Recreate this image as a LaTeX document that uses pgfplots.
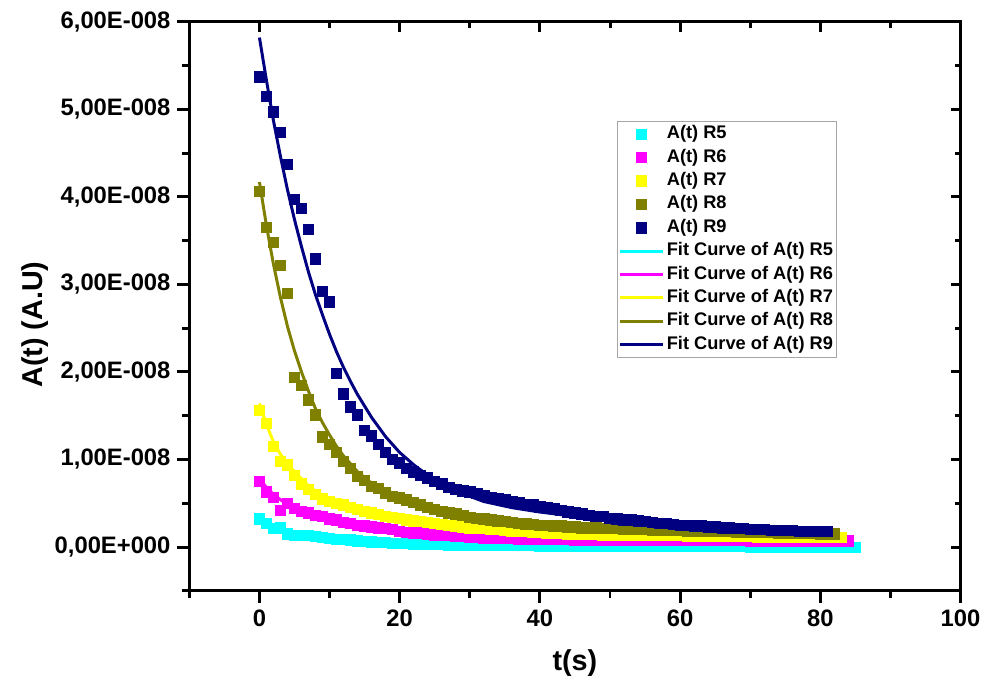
\documentclass[border=0pt]{standalone}
\usepackage{fontspec}
\setmainfont{Liberation Sans}
\usepackage{pgfplots}
\usepackage{pgfplotstable}
\pgfplotsset{compat=1.18}
\definecolor{navyc}{RGB}{0,0,128}
\definecolor{olivec}{RGB}{128,128,0}
\definecolor{cyanc}{RGB}{0,255,255}
\definecolor{magc}{RGB}{255,0,255}
\definecolor{yelc}{RGB}{255,255,0}

% data in units of 1E-008
\pgfplotstableread[row sep=\\]{
t y\\
0 0.32\\ 1 0.27\\ 2 0.21\\ 3 0.22\\ 4 0.15\\ 5 0.13\\ 6 0.13\\ 7 0.13\\ 8 0.12\\ 9 0.11\\
10 0.10\\ 11 0.09\\ 12 0.085\\ 13 0.08\\ 14 0.07\\ 15 0.065\\ 16 0.06\\ 17 0.055\\ 18 0.05\\ 19 0.045\\
20 0.04\\ 21 0.04\\ 22 0.035\\ 23 0.035\\ 24 0.03\\ 25 0.03\\ 26 0.03\\ 27 0.025\\ 28 0.025\\ 29 0.025\\
30 0.02\\ 31 0.02\\ 32 0.02\\ 33 0.02\\ 34 0.02\\ 35 0.015\\ 36 0.015\\ 37 0.015\\ 38 0.015\\ 39 0.015\\
40 0.01\\ 41 0.01\\ 42 0.01\\ 43 0.01\\ 44 0.01\\ 45 0.01\\ 46 0.01\\ 47 0.01\\ 48 0.01\\ 49 0.01\\
50 0.008\\ 51 0.008\\ 52 0.008\\ 53 0.008\\ 54 0.008\\ 55 0.008\\ 56 0.008\\ 57 0.008\\ 58 0.008\\ 59 0.008\\
60 0.005\\ 61 0.005\\ 62 0.005\\ 63 0.005\\ 64 0.005\\ 65 0.005\\ 66 0.005\\ 67 0.005\\ 68 0.005\\ 69 0.005\\
70 0.0\\ 71 0.0\\ 72 0.0\\ 73 0.0\\ 74 0.0\\ 75 0.0\\ 76 0.0\\ 77 0.0\\ 78 0.0\\ 79 0.0\\
80 -0.005\\ 81 -0.005\\ 82 -0.005\\ 83 -0.005\\ 84 -0.005\\ 85 -0.005\\
}\dataRfive

\pgfplotstableread[row sep=\\]{
t y\\
0 0.75\\ 1 0.63\\ 2 0.57\\ 3 0.42\\ 4 0.50\\ 5 0.44\\ 6 0.41\\ 7 0.39\\ 8 0.36\\ 9 0.35\\
10 0.32\\ 11 0.31\\ 12 0.28\\ 13 0.27\\ 14 0.25\\ 15 0.24\\ 16 0.23\\ 17 0.22\\ 18 0.21\\ 19 0.20\\
20 0.18\\ 21 0.17\\ 22 0.16\\ 23 0.16\\ 24 0.15\\ 25 0.14\\ 26 0.13\\ 27 0.13\\ 28 0.12\\ 29 0.12\\
30 0.11\\ 31 0.11\\ 32 0.105\\ 33 0.10\\ 34 0.10\\ 35 0.095\\ 36 0.095\\ 37 0.09\\ 38 0.09\\ 39 0.09\\
40 0.085\\ 41 0.085\\ 42 0.085\\ 43 0.085\\ 44 0.085\\ 45 0.08\\ 46 0.08\\ 47 0.08\\ 48 0.08\\ 49 0.08\\
50 0.08\\ 51 0.08\\ 52 0.08\\ 53 0.08\\ 54 0.08\\ 55 0.08\\ 56 0.08\\ 57 0.08\\ 58 0.08\\ 59 0.08\\
60 0.075\\ 61 0.075\\ 62 0.075\\ 63 0.075\\ 64 0.075\\ 65 0.075\\ 66 0.075\\ 67 0.075\\ 68 0.075\\ 69 0.075\\
70 0.07\\ 71 0.07\\ 72 0.07\\ 73 0.07\\ 74 0.07\\ 75 0.07\\ 76 0.07\\ 77 0.07\\ 78 0.07\\ 79 0.07\\
80 0.07\\ 81 0.07\\ 82 0.07\\ 83 0.07\\ 84 0.07\\
}\dataRsix

\pgfplotstableread[row sep=\\]{
t y\\
0 1.56\\ 1 1.41\\ 2 1.15\\ 3 0.98\\ 4 0.94\\ 5 0.82\\ 6 0.72\\ 7 0.66\\ 8 0.60\\ 9 0.55\\
10 0.52\\ 11 0.50\\ 12 0.48\\ 13 0.45\\ 14 0.43\\ 15 0.41\\ 16 0.39\\ 17 0.37\\ 18 0.35\\ 19 0.34\\
20 0.33\\ 21 0.31\\ 22 0.30\\ 23 0.29\\ 24 0.28\\ 25 0.27\\ 26 0.26\\ 27 0.25\\ 28 0.24\\ 29 0.23\\
30 0.22\\ 31 0.215\\ 32 0.21\\ 33 0.205\\ 34 0.20\\ 35 0.19\\ 36 0.185\\ 37 0.18\\ 38 0.175\\ 39 0.17\\
40 0.165\\ 41 0.16\\ 42 0.16\\ 43 0.155\\ 44 0.15\\ 45 0.15\\ 46 0.145\\ 47 0.145\\ 48 0.145\\ 49 0.14\\
50 0.14\\ 51 0.14\\ 52 0.14\\ 53 0.135\\ 54 0.135\\ 55 0.135\\ 56 0.135\\ 57 0.13\\ 58 0.13\\ 59 0.13\\
60 0.13\\ 61 0.125\\ 62 0.125\\ 63 0.125\\ 64 0.125\\ 65 0.125\\ 66 0.12\\ 67 0.12\\ 68 0.12\\ 69 0.12\\
70 0.12\\ 71 0.115\\ 72 0.115\\ 73 0.115\\ 74 0.115\\ 75 0.115\\ 76 0.115\\ 77 0.11\\ 78 0.11\\ 79 0.11\\
80 0.11\\ 81 0.11\\ 82 0.11\\ 83 0.11\\
}\dataRseven

\pgfplotstableread[row sep=\\]{
t y\\
0 4.06\\ 1 3.65\\ 2 3.48\\ 3 3.22\\ 4 2.90\\ 5 1.94\\ 6 1.85\\ 7 1.68\\ 8 1.51\\ 9 1.26\\
10 1.17\\ 11 1.08\\ 12 0.98\\ 13 0.90\\ 14 0.81\\ 15 0.76\\ 16 0.69\\ 17 0.67\\ 18 0.62\\ 19 0.58\\
20 0.56\\ 21 0.54\\ 22 0.51\\ 23 0.48\\ 24 0.45\\ 25 0.43\\ 26 0.41\\ 27 0.39\\ 28 0.38\\ 29 0.36\\
30 0.34\\ 31 0.33\\ 32 0.32\\ 33 0.31\\ 34 0.30\\ 35 0.29\\ 36 0.28\\ 37 0.27\\ 38 0.265\\ 39 0.26\\
40 0.25\\ 41 0.25\\ 42 0.24\\ 43 0.24\\ 44 0.23\\ 45 0.23\\ 46 0.22\\ 47 0.22\\ 48 0.22\\ 49 0.21\\
50 0.21\\ 51 0.21\\ 52 0.20\\ 53 0.20\\ 54 0.20\\ 55 0.20\\ 56 0.19\\ 57 0.19\\ 58 0.19\\ 59 0.19\\
60 0.19\\ 61 0.185\\ 62 0.185\\ 63 0.18\\ 64 0.18\\ 65 0.18\\ 66 0.175\\ 67 0.175\\ 68 0.17\\ 69 0.17\\
70 0.17\\ 71 0.165\\ 72 0.165\\ 73 0.165\\ 74 0.16\\ 75 0.16\\ 76 0.16\\ 77 0.155\\ 78 0.155\\ 79 0.155\\
80 0.15\\ 81 0.15\\ 82 0.15\\
}\dataReight

\pgfplotstableread[row sep=\\]{
t y\\
0 5.37\\ 1 5.15\\ 2 4.97\\ 3 4.74\\ 4 4.37\\ 5 3.97\\ 6 3.87\\ 7 3.63\\ 8 3.29\\ 9 2.92\\
10 2.80\\ 11 1.98\\ 12 1.75\\ 13 1.60\\ 14 1.51\\ 15 1.33\\ 16 1.27\\ 17 1.17\\ 18 1.08\\ 19 1.00\\
20 0.96\\ 21 0.90\\ 22 0.86\\ 23 0.82\\ 24 0.79\\ 25 0.75\\ 26 0.72\\ 27 0.68\\ 28 0.66\\ 29 0.64\\
30 0.63\\ 31 0.61\\ 32 0.59\\ 33 0.57\\ 34 0.55\\ 35 0.54\\ 36 0.52\\ 37 0.51\\ 38 0.49\\ 39 0.48\\
40 0.46\\ 41 0.45\\ 42 0.44\\ 43 0.42\\ 44 0.40\\ 45 0.39\\ 46 0.38\\ 47 0.36\\ 48 0.35\\ 49 0.35\\
50 0.33\\ 51 0.32\\ 52 0.31\\ 53 0.31\\ 54 0.30\\ 55 0.29\\ 56 0.28\\ 57 0.27\\ 58 0.27\\ 59 0.26\\
60 0.25\\ 61 0.25\\ 62 0.24\\ 63 0.24\\ 64 0.23\\ 65 0.23\\ 66 0.22\\ 67 0.22\\ 68 0.21\\ 69 0.21\\
70 0.20\\ 71 0.20\\ 72 0.20\\ 73 0.19\\ 74 0.19\\ 75 0.19\\ 76 0.19\\ 77 0.18\\ 78 0.18\\ 79 0.18\\
80 0.18\\ 81 0.18\\
}\dataRnine

\begin{document}
\begin{tikzpicture}
\begin{axis}[
  name=main,
  scale only axis, width=389bp, height=287bp,
  xmin=-10, xmax=100, ymin=-0.5, ymax=6,
  xtick={0,20,40,60,80,100}, minor xtick={-10,10,30,50,70,90},
  ytick={0,1,2,3,4,5,6}, minor ytick={-0.5,0.5,1.5,2.5,3.5,4.5,5.5},
  yticklabels={{0,00E+000},{1,00E-008},{2,00E-008},{3,00E-008},{4,00E-008},{5,00E-008},{6,00E-008}},
  xtick pos=left, ytick pos=left, tick align=outside,
  major tick length=6bp, minor tick length=3.5bp,
  axis line style={line width=1.5bp},
  tick style={line width=1.5bp, black},
  tick label style={font=\fontsize{12bp}{14bp}\selectfont\bfseries},
  /pgf/number format/assume math mode=true,
  xlabel={t(s)}, ylabel={A(t) (A.U)},
  label style={font=\fontsize{14.5bp}{16bp}\selectfont\bfseries},
  xlabel style={at={(axis description cs:0.5,0)}, anchor=center, yshift=-36.5bp},
  ylabel style={at={(axis description cs:0,0.468)}, anchor=center, rotate=0, yshift=78bp},
  legend cell align=left,
  legend image code/.code={\draw[mark repeat=2,mark phase=2,#1] plot coordinates {(0bp,0bp) (10.75bp,0bp) (21.5bp,0bp)};},
  legend style={at={(axis description cs:0.555,0.8255)}, anchor=north west,
    draw=gray!70, inner sep=0.5bp, row sep=0pt,
    font=\fontsize{9.2bp}{10bp}\selectfont\bfseries,
    nodes={inner xsep=1.25bp, inner ysep=1.6bp, text height=6.6bp, text depth=2bp}},
  mark size=2.6bp,
]
\addplot[only marks, mark=square*, color=cyanc] table[x=t,y=y] {\dataRfive};
\addplot[only marks, mark=square*, color=magc] table[x=t,y=y] {\dataRsix};
\addplot[only marks, mark=square*, color=yelc] table[x=t,y=y] {\dataRseven};
\addplot[only marks, mark=square*, color=olivec] table[x=t,y=y] {\dataReight};
\addplot[only marks, mark=square*, color=navyc] table[x=t,y=y] {\dataRnine};

\addplot[no marks, color=cyanc, line width=1.5bp] coordinates {
(0,0.33)(1,0.29)(2,0.25)(3,0.22)(4,0.19)(5,0.17)(6,0.15)(8,0.12)(10,0.10)(12,0.085)(14,0.07)(17,0.055)(20,0.045)(25,0.03)(30,0.02)(40,0.01)(50,0.006)(60,0.003)(70,0.0)(85,-0.003)};
\addplot[no marks, color=magc, line width=1.5bp] coordinates {
(0,0.78)(1,0.68)(2,0.60)(3,0.54)(4,0.49)(5,0.45)(6,0.41)(7,0.38)(8,0.36)(10,0.32)(12,0.28)(14,0.25)(17,0.21)(20,0.19)(23,0.16)(26,0.15)(30,0.13)(35,0.115)(40,0.10)(50,0.09)(60,0.08)(70,0.075)(84,0.07)};
\addplot[no marks, color=yelc, line width=1.5bp] coordinates {
(0,1.64)(1,1.40)(2,1.20)(3,1.06)(4,0.95)(5,0.86)(6,0.78)(7,0.70)(8,0.64)(9,0.59)(10,0.55)(12,0.48)(14,0.43)(16,0.39)(18,0.36)(20,0.33)(24,0.28)(28,0.25)(32,0.22)(36,0.19)(40,0.17)(45,0.155)(50,0.145)(60,0.13)(70,0.12)(83,0.11)};
\addplot[no marks, color=olivec, line width=1.5bp] coordinates {
(0,4.17)(1,3.67)(2,3.23)(3,2.85)(4,2.52)(5,2.24)(6,2.00)(7,1.78)(8,1.58)(9,1.42)(10,1.28)(11,1.15)(12,1.04)(13,0.95)(14,0.86)(16,0.73)(18,0.63)(20,0.56)(22,0.50)(24,0.44)(26,0.40)(28,0.37)(32,0.32)(36,0.28)(40,0.26)(45,0.24)(50,0.22)(60,0.19)(70,0.17)(82,0.15)};
\addplot[no marks, color=navyc, line width=1.5bp] coordinates {
(0,5.82)(1,5.33)(2,4.87)(3,4.46)(4,4.08)(5,3.74)(6,3.43)(7,3.14)(8,2.88)(9,2.65)(10,2.43)(11,2.23)(12,2.05)(13,1.89)(14,1.74)(16,1.48)(18,1.26)(20,1.08)(22,0.94)(24,0.82)(26,0.72)(28,0.64)(32,0.52)(36,0.45)(40,0.40)(45,0.35)(50,0.32)(60,0.26)(70,0.22)(81,0.19)};
\legend{A(t) R5, A(t) R6, A(t) R7, A(t) R8, A(t) R9,
  Fit Curve of A(t) R5, Fit Curve of A(t) R6, Fit Curve of A(t) R7, Fit Curve of A(t) R8, Fit Curve of A(t) R9}
\end{axis}
\begin{axis}[
  scale only axis, width=389bp, height=287bp,
  xmin=-10, xmax=100, ymin=-0.5, ymax=6,
  xtick={0,20,40,60,80,100}, minor xtick={-10,10,30,50,70,90},
  ytick={0,1,2,3,4,5,6}, minor ytick={-0.5,0.5,1.5,2.5,3.5,4.5,5.5},
  xticklabels={}, yticklabels={},
  xtick pos=right, ytick pos=right, tick align=inside,
  major tick length=5bp, minor tick length=3bp,
  axis line style={line width=1.5bp},
  tick style={line width=1.5bp, black},
]
\end{axis}
\path ([shift={(-95.5bp,-47bp)}]main.south west) rectangle ([shift={(10bp,11bp)}]main.north east);
\end{tikzpicture}
\end{document}
